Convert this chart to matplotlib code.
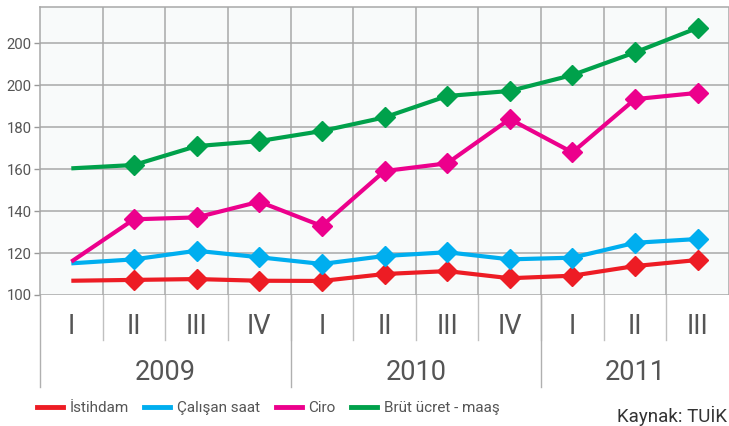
import matplotlib
matplotlib.use('Agg')
from matplotlib import pyplot as plt
from matplotlib.lines import Line2D
import matplotlib.transforms as mtransforms

plt.rcParams['font.family'] = ['Roboto', 'DejaVu Sans']

ceyrekler = ['I', 'II', 'III', 'IV', 'I', 'II', 'III', 'IV', 'I', 'II', 'III']
yillar = ['2009', '2010', '2011']
yil_ceyrek_sayisi = [4, 4, 3]

istihdam = [106.8, 107.2, 107.6, 106.8, 106.7, 110.0, 111.4, 108.0, 109.2, 113.8, 116.7]
calisan_saat = [115.1, 117.0, 121.1, 118.0, 114.8, 118.6, 120.4, 117.0, 117.8, 124.9, 126.7]
ciro = [115.9, 136.1, 137.0, 144.5, 132.9, 159.1, 162.8, 183.9, 168.0, 193.4, 196.4]
brut_ucret = [160.4, 162.0, 171.0, 173.4, 178.2, 184.7, 194.9, 197.3, 204.9, 215.7, 227.4]

y_tikler = [100, 120, 140, 160, 180, 200, 220]
y_etiketler = ['100', '120', '140', '160', '180', '200', '200']

seriler = [istihdam, calisan_saat, ciro, brut_ucret]
isimler = ['İstihdam', 'Çalışan saat', 'Ciro', 'Brüt ücret - maaş']
renkler = ['#ed1c24', '#00aeef', '#ec008c', '#00a14b']

W, H = 729, 426
fig = plt.figure(figsize=(W / 100, H / 100), dpi=100)
ax = fig.add_axes([40 / W, 1 - 295 / H, 689 / W, 287.7 / H])
ax.set_facecolor('#f8fafa')

x = list(range(len(ceyrekler)))
for seri, isim, renk in zip(seriler, isimler, renkler):
    ax.plot(x, seri, color=renk, linewidth=3, marker='D', markersize=10,
            markevery=list(range(1, len(x))), label=isim, zorder=3,
            solid_capstyle='butt')

ax.set_xlim(-0.5, 689 / 63.2 - 0.5)
ax.set_ylim(100, 237.2)

# griglia
ax.set_yticks(y_tikler)
ax.set_yticklabels(y_etiketler, fontsize=10.7, color='#555555')
ax.set_xticks([i + 0.5 for i in x])
ax.set_xticklabels([])
ax.tick_params(axis='x', length=0)
ax.tick_params(axis='y', length=4, color='#999999', width=1, pad=2)
ax.grid(True, color='#a8a8a8', linewidth=1.1, zorder=1)
ax.set_axisbelow(True)
for lato in ['right', 'bottom']:
    ax.spines[lato].set_visible(False)
for lato in ['left', 'top']:
    ax.spines[lato].set_color('#a8a8a8')
    ax.spines[lato].set_linewidth(1.1)

# etichette sotto il grafico
tr = mtransforms.blended_transform_factory(ax.transData, ax.transAxes)
for i, q in enumerate(ceyrekler):
    ax.text(i, -0.108, q, transform=tr, ha='center', va='center',
            fontsize=19.5, color='#555555')
    if i > 0:
        ax.add_line(Line2D([i - 0.5, i - 0.5], [0, -0.156], transform=tr,
                           color='#c0c0c0', linewidth=1, clip_on=False))

inizio = 0
for anno, n in zip(yillar, yil_ceyrek_sayisi):
    ax.add_line(Line2D([inizio - 0.5, inizio - 0.5], [0, -0.32], transform=tr,
                       color='#b0b0b0', linewidth=1, clip_on=False))
    ax.text(inizio + (n - 1) / 2, -0.271, anno, transform=tr, ha='center',
            va='center', fontsize=19.5, color='#555555')
    inizio += n

# legenda
maniglie = [Line2D([0], [0], color=r, linewidth=3.5) for r in renkler]
fig.legend(maniglie, isimler, loc='center left', bbox_to_anchor=(37 / W, 1 - 408 / H),
           ncol=4, frameon=False, fontsize=11, handlelength=1.7,
           handletextpad=0.45, columnspacing=1.0, borderpad=0, borderaxespad=0,
           labelcolor='#555555')

fig.text(727 / W, 1 - 421.5 / H, 'Kaynak: TUİK', ha='right', va='baseline',
         fontsize=13.5, color='#333333')

fig.savefig('out.png', dpi=100, facecolor='white')
